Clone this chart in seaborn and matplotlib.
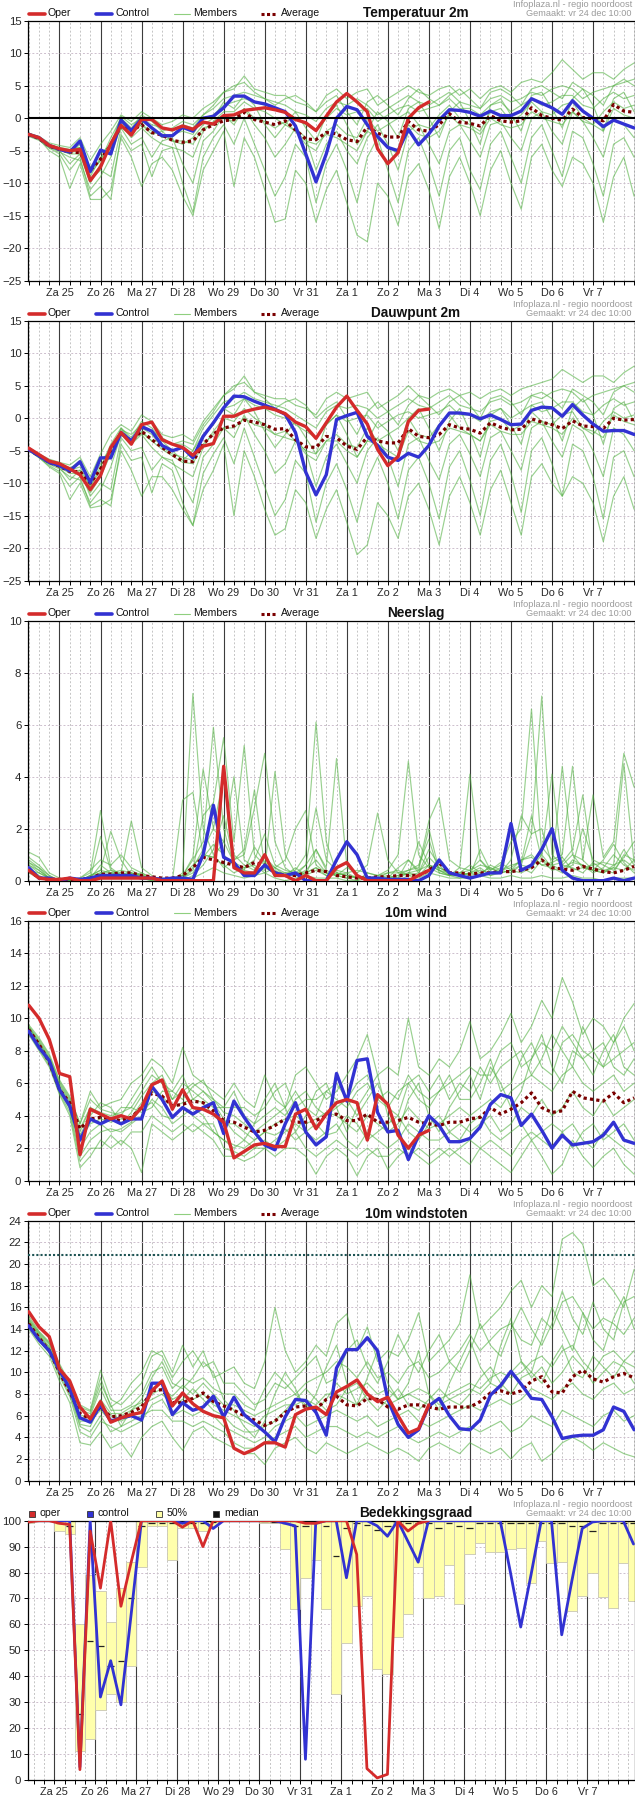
import matplotlib
matplotlib.use('Agg')
import matplotlib.pyplot as plt
import numpy as np
import pandas as pd
import seaborn as sns
from matplotlib.lines import Line2D
from matplotlib.ticker import MultipleLocator

# ============================================== Data ==============================================
day_labels = ['Za 25', 'Zo 26', 'Ma 27', 'Di 28', 'Wo 29', 'Do 30', 'Vr 31',
              'Za 1', 'Zo 2', 'Ma 3', 'Di 4', 'Wo 5', 'Do 6', 'Vr 7']
n_steps = 60
t_runs = [-0.75 + 0.25 * i for i in range(n_steps)]     # days since Za 25 00h, 6-hourly
t_cloud = [-0.625 + 0.25 * j for j in range(n_steps)]   # cloud periods (centred)

# ---- Temperatuur 2m
temp_oper = [-2.5, -3.0, -4.2, -4.7, -5.0, -4.8, -9.6, -7.5, -3.9, -1.1,
             -2.6, -0.2, -0.2, -1.5, -1.8, -1.2, -1.7, -0.6, -0.9, 0.4,
             0.5, 1.2, 1.4, 1.6, 1.3, 0.9, -0.2, -0.7, -1.9, 0.3,
             2.5, 3.8, 2.5, 1.0, -4.7, -7.0, -5.3, 0.0, 1.6, 2.5]
temp_control = [-2.5, -3.0, -4.2, -4.8, -5.2, -3.5, -8.2, -4.9, -5.5, -0.3,
                -1.9, -0.1, -1.5, -2.7, -2.7, -1.4, -2.0, 0.0, 0.3, 1.6,
                3.4, 3.4, 2.5, 2.2, 1.6, 1.0, -1.2, -5.5, -9.8, -5.5,
                0.0, 1.8, 1.3, -1.0, -2.8, -4.5, -5.0, -1.7, -4.1, -2.4,
                -0.3, 1.3, 1.2, 0.9, 0.3, 1.1, 0.4, 0.4, 1.1, 3.0,
                2.3, 1.6, 0.6, 2.7, 1.1, 0.0, -1.3, -0.3, -0.9, -1.5]
temp_avg = [-2.5, -3.1, -4.3, -4.8, -5.2, -5.3, -8.0, -6.3, -4.2, -1.2,
            -2.0, -1.0, -2.2, -2.6, -3.4, -3.7, -3.5, -1.8, -1.0, -0.4,
            -0.2, 0.9, -0.2, -0.6, -1.0, -0.4, -1.8, -3.2, -3.3, -2.2,
            -2.4, -3.3, -3.6, -1.3, -2.3, -2.9, -2.9, -0.5, -1.8, -2.0,
            -1.0, 0.7, -0.6, -0.8, -1.2, 0.4, -0.4, -0.6, -0.4, 1.6,
            0.4, 0.0, -0.3, 1.4, 0.1, -0.1, -0.4, 2.1, 1.1, 0.9]
temp_members = [
    [-2.3, -2.8, -3.8, -4.2, -4.5, -3.0, -6.5, -4.0, -2.0, 0.5,
     -0.5, 1.0, 0.0, -1.0, -0.5, 0.5, 0.0, 1.5, 2.5, 4.0,
     4.5, 6.5, 4.5, 4.0, 3.5, 3.5, 2.5, 2.0, 1.0, 3.5,
     4.5, 3.0, 4.0, 4.5, 2.0, 3.0, 4.0, 5.0, 4.0, 3.5,
     4.5, 5.0, 3.5, 4.5, 3.0, 4.5, 5.0, 4.0, 5.5, 6.0,
     5.5, 7.0, 9.0, 7.5, 6.0, 7.0, 7.0, 6.0, 7.5, 8.5],
    [-2.5, -3.0, -4.0, -4.6, -5.0, -4.5, -8.5, -6.5, -3.0, 0.0,
     -1.5, 0.5, -0.5, -2.0, -1.5, -0.5, -1.0, 0.5, 1.5, 3.0,
     3.5, 4.0, 3.5, 3.0, 2.5, 2.0, 1.0, 0.5, -0.5, 1.5,
     2.5, 2.0, 3.0, 2.0, 0.5, 1.5, 2.5, 3.5, 2.5, 2.0,
     3.0, 4.0, 2.5, 2.0, 1.5, 3.0, 3.5, 2.5, 3.0, 4.0,
     3.5, 4.5, 5.0, 4.5, 3.0, 4.0, 4.5, 5.0, 5.5, 6.0],
    [-2.6, -3.1, -4.3, -4.9, -5.5, -5.5, -10.0, -7.0, -4.5, -0.5,
     -2.5, -0.5, -1.5, -3.0, -2.5, -2.0, -2.5, 0.0, 0.5, 2.0,
     2.5, 3.0, 2.5, 2.0, 1.5, 1.0, 0.0, -1.0, -2.0, 0.0,
     1.5, 0.5, 1.0, 1.5, -0.5, 0.5, 1.5, 2.0, 1.0, 1.5,
     2.0, 3.0, 1.5, 1.5, 0.5, 2.0, 2.5, 1.0, 2.0, 3.0,
     2.0, 2.5, 3.5, 3.5, 2.0, 1.5, 3.0, 4.0, 3.0, 3.5],
    [-2.7, -3.3, -4.5, -5.2, -6.0, -6.5, -11.0, -9.0, -6.0, -1.0,
     -3.0, -1.5, -3.0, -4.0, -4.5, -5.0, -6.0, -2.0, -0.5, 1.0,
     1.0, 2.5, 1.5, 1.0, 0.0, -1.0, -2.0, -4.0, -5.0, -2.0,
     -1.0, -2.5, -3.0, 0.0, -2.0, -1.0, 0.0, 1.0, -1.0, -1.5,
     0.5, 2.0, 0.0, -1.0, -2.0, 1.0, 1.5, -0.5, 0.5, 2.5,
     1.0, 0.5, 2.0, 2.5, 0.0, -1.0, 1.0, 2.5, 1.5, 2.0],
    [-2.5, -3.0, -4.4, -5.0, -7.0, -5.5, -9.5, -8.0, -9.0, -1.5,
     -4.0, -3.0, -6.0, -3.5, -3.0, -7.0, -10.0, -3.5, -2.0, 0.5,
     -1.0, 1.5, -1.0, -3.0, -6.0, -4.0, -1.5, -3.0, -8.0, -4.0,
     -2.0, -5.0, -7.0, -3.0, -1.0, -4.0, -8.0, -2.0, -1.0, -4.0,
     -7.0, -2.0, -1.0, -3.5, -6.0, -1.0, -0.5, -3.0, -5.0, 0.0,
     1.0, -2.0, -4.0, 1.0, -0.5, -3.0, -6.0, 0.0, -1.0, -3.0],
    [-2.8, -3.4, -4.6, -5.5, -8.0, -6.0, -12.0, -10.5, -12.5, -2.5,
     -5.0, -4.0, -9.0, -5.0, -4.5, -10.0, -14.5, -6.0, -3.0, -1.0,
     -4.0, 0.0, -4.0, -8.0, -12.0, -9.0, -4.0, -6.0, -13.0, -7.0,
     -4.0, -8.0, -13.0, -6.0, -3.0, -8.0, -13.0, -5.0, -3.0, -7.0,
     -12.0, -5.0, -3.0, -8.0, -11.0, -4.0, -2.0, -6.0, -10.0, -3.0,
     -1.0, -5.0, -9.0, -2.0, -3.0, -7.0, -12.0, -4.0, -3.0, -6.0],
    [-2.6, -3.2, -5.0, -6.0, -10.8, -7.0, -12.5, -12.5, -11.0, -3.0,
     -6.0, -10.5, -7.0, -6.0, -8.0, -12.0, -15.0, -8.0, -5.0, -2.0,
     -10.5, -3.0, -6.0, -11.0, -16.0, -15.5, -8.0, -10.0, -16.0, -11.0,
     -8.0, -13.0, -18.0, -19.0, -10.0, -12.0, -16.5, -9.0, -7.0, -11.0,
     -17.0, -9.0, -6.0, -10.0, -15.0, -8.0, -5.0, -10.0, -14.0, -6.0,
     -4.0, -8.0, -10.5, -6.0, -7.0, -10.0, -16.0, -9.0, -6.0, -12.0],
    [-2.4, -2.9, -4.2, -4.8, -5.5, -4.0, -9.0, -6.0, -5.0, 0.0,
     -2.0, -1.0, -2.5, -2.0, -3.5, -4.0, -3.0, -1.0, 0.0, 2.5,
     1.5, 3.5, 2.0, -1.0, -3.0, -1.0, 1.0, -1.5, -3.5, 0.5,
     2.0, -1.0, -4.0, -2.0, 1.0, -0.5, -3.0, 1.5, 2.5, 0.0,
     -3.0, 1.0, 2.5, -0.5, -4.0, 2.0, 3.0, 0.5, -2.0, 3.5,
     4.0, 1.5, -1.5, 3.0, 4.5, 2.0, -2.0, 3.0, 4.0, 1.0],
    [-2.5, -3.0, -4.1, -4.5, -4.8, -4.5, -7.5, -5.5, -4.0, 0.3,
     -1.0, 0.0, -1.0, -1.5, -2.0, -1.0, -1.5, 0.5, 2.0, 4.0,
     5.0, 5.5, 4.0, 3.0, 2.0, 3.0, 3.5, 2.5, 1.0, 2.5,
     3.5, 1.0, -1.0, 2.5, 3.5, 2.0, 0.5, 3.0, 4.5, 3.0,
     2.0, 3.5, 4.5, 3.0, 1.5, 4.0, 4.5, 3.5, 2.0, 4.5,
     5.0, 4.0, 3.0, 5.5, 4.5, 3.5, 2.0, 5.0, 6.0, 5.0],
    [-2.5, -3.1, -4.3, -4.8, -5.3, -5.0, -8.0, -6.5, -4.5, -1.0,
     -2.0, -1.0, -2.0, -2.5, -3.5, -3.5, -4.0, -1.5, -1.0, 0.0,
     -0.5, 1.5, 0.0, -0.5, -1.5, -0.5, -2.0, -3.5, -4.0, -2.5,
     -3.0, -4.0, -5.0, -2.0, -3.0, -4.5, -5.5, -1.0, -2.5, -3.0,
     -2.0, 0.5, -1.0, -1.5, -2.5, 0.0, -1.0, -1.5, -1.0, 1.0,
     0.0, -0.5, -1.0, 1.0, -0.5, -1.0, -2.0, 1.5, 0.5, 0.0],
]

# ---- Dauwpunt 2m
dew_oper = [-4.6, -5.6, -6.6, -7.0, -7.8, -8.7, -11.0, -8.8, -4.5, -2.2,
            -4.0, -1.0, -0.6, -3.3, -4.0, -4.5, -5.7, -4.3, -3.9, 0.3,
            0.3, 1.0, 1.4, 1.7, 1.3, 0.7, -0.6, -1.3, -3.1, -0.7,
            1.7, 3.4, 1.2, -0.9, -4.8, -7.3, -5.9, -0.5, 1.2, 1.4]
dew_control = [-4.8, -5.8, -6.8, -7.3, -8.1, -6.7, -9.9, -6.1, -6.1, -2.2,
               -3.5, -1.3, -2.0, -4.2, -5.0, -4.5, -6.1, -2.8, -0.7, 1.6,
               3.4, 3.3, 2.6, 2.0, 1.4, 0.6, -2.2, -8.3, -11.8, -8.7,
               -0.2, 0.4, 0.9, -2.8, -4.2, -6.0, -6.5, -5.4, -6.0, -4.2,
               -1.2, 0.8, 0.8, 0.6, -0.1, 0.5, -0.2, -1.0, -0.9, 1.2,
               1.7, 1.6, 0.3, 2.1, 0.5, -0.9, -2.0, -1.9, -1.9, -2.5]
dew_avg = [-4.8, -5.8, -6.8, -7.4, -8.2, -8.2, -10.0, -7.8, -5.0, -2.3,
           -3.5, -2.0, -3.3, -4.5, -5.6, -6.6, -6.7, -4.0, -2.4, -1.5,
           -1.2, -0.3, -0.6, -1.0, -1.7, -1.6, -3.3, -4.4, -4.5, -2.8,
           -3.0, -4.3, -4.8, -2.9, -3.5, -3.8, -3.8, -1.6, -2.8, -3.0,
           -2.5, -1.0, -1.5, -1.7, -2.3, -0.7, -1.4, -1.8, -1.7, -0.1,
           -0.6, -1.0, -1.6, -0.4, -1.2, -1.3, -1.6, 0.0, -0.3, -0.2]
dew_members = [
    [-4.5, -5.5, -6.3, -6.8, -7.2, -6.0, -9.0, -5.5, -2.5, -1.0,
     -2.0, 0.5, -0.5, -2.5, -3.0, -2.5, -3.5, -0.5, 1.5, 3.5,
     4.5, 6.5, 4.0, 3.5, 3.0, 3.0, 2.0, 1.5, 0.5, 3.0,
     4.0, 3.0, 3.5, 4.0, 1.5, 2.5, 3.5, 5.0, 3.5, 3.0,
     4.0, 4.5, 3.5, 4.0, 3.0, 4.0, 4.5, 3.5, 4.5, 5.0,
     5.5, 6.0, 7.5, 6.5, 5.5, 6.5, 6.5, 5.5, 7.0, 8.0],
    [-4.7, -5.7, -6.6, -7.2, -8.0, -7.5, -10.5, -7.5, -4.0, -1.5,
     -3.0, -0.5, -1.5, -3.5, -4.0, -4.0, -5.0, -1.5, 0.5, 2.5,
     3.0, 4.0, 3.0, 2.5, 2.0, 1.5, 0.5, -0.5, -1.5, 1.0,
     2.0, 1.5, 2.0, 1.5, 0.0, 1.0, 2.0, 3.0, 2.0, 1.5,
     2.5, 3.5, 2.0, 1.5, 1.0, 2.5, 3.0, 2.0, 2.5, 3.5,
     3.0, 4.0, 4.5, 4.0, 2.5, 3.5, 4.0, 4.5, 5.0, 5.5],
    [-4.8, -5.9, -6.9, -7.5, -8.5, -8.5, -11.5, -9.0, -5.5, -2.0,
     -3.5, -1.5, -2.5, -4.5, -5.5, -6.0, -6.5, -3.0, -0.5, 1.5,
     2.0, 3.0, 2.0, 1.5, 0.5, 0.0, -1.0, -2.0, -3.0, -1.0,
     0.5, -0.5, 0.0, 0.5, -1.5, -0.5, 0.5, 1.0, 0.0, 0.5,
     1.0, 2.0, 0.5, 0.5, -0.5, 1.0, 1.5, 0.0, 1.0, 2.0,
     1.0, 1.5, 2.5, 2.5, 1.0, 0.5, 2.0, 3.0, 2.0, 2.5],
    [-4.9, -6.0, -7.1, -7.8, -9.0, -9.5, -13.0, -11.0, -7.5, -2.5,
     -4.0, -2.5, -4.5, -6.0, -7.0, -8.0, -9.0, -4.5, -2.0, 0.0,
     -0.5, 1.5, 0.0, -1.0, -2.5, -3.0, -3.5, -5.5, -6.5, -3.5,
     -2.5, -4.0, -4.5, -1.5, -3.5, -2.5, -1.5, 0.0, -2.5, -3.0,
     -1.0, 0.5, -1.5, -2.5, -3.5, -0.5, 0.0, -2.0, -1.0, 1.0,
     -0.5, -1.0, 0.5, 1.0, -1.5, -2.5, -0.5, 1.0, 0.0, 0.5],
    [-4.8, -5.8, -6.9, -7.6, -9.5, -8.0, -12.0, -10.0, -11.0, -3.0,
     -5.0, -4.5, -8.0, -6.0, -6.5, -10.0, -13.0, -6.0, -4.0, -1.5,
     -3.0, 0.5, -2.5, -5.0, -8.5, -7.0, -3.5, -5.0, -10.5, -6.0,
     -4.0, -7.0, -10.0, -5.0, -3.0, -6.0, -10.5, -4.0, -3.0, -6.5,
     -9.5, -4.0, -2.5, -5.5, -9.0, -3.0, -2.0, -5.0, -8.0, -1.5,
     -0.5, -3.5, -6.0, -1.0, -2.0, -5.0, -9.0, -1.5, -2.5, -5.0],
    [-5.0, -6.1, -7.3, -8.2, -10.5, -9.0, -13.5, -12.5, -13.5, -4.0,
     -6.5, -6.0, -11.5, -7.0, -8.0, -13.0, -16.5, -8.5, -5.5, -3.0,
     -7.0, -1.5, -6.0, -10.5, -15.0, -12.5, -6.5, -8.5, -16.0, -10.0,
     -7.0, -11.0, -16.0, -9.5, -6.0, -10.0, -15.5, -8.0, -6.0, -10.0,
     -15.5, -7.5, -5.0, -9.5, -15.0, -6.5, -4.0, -8.5, -14.5, -5.0,
     -3.0, -7.0, -12.0, -4.0, -5.0, -9.0, -15.5, -6.0, -5.0, -9.0],
    [-4.9, -6.0, -7.5, -8.5, -12.5, -10.0, -13.8, -13.5, -12.5, -5.0,
     -8.0, -12.0, -9.0, -9.0, -11.0, -14.0, -16.5, -11.0, -8.0, -4.0,
     -15.0, -5.0, -9.0, -14.0, -18.0, -17.0, -11.0, -13.0, -18.5, -14.0,
     -11.0, -16.0, -21.0, -19.5, -13.0, -15.0, -18.5, -12.0, -10.0, -14.0,
     -19.5, -12.0, -9.0, -13.0, -18.0, -11.0, -8.0, -13.0, -18.0, -9.0,
     -7.0, -10.0, -12.0, -9.0, -10.0, -13.0, -19.0, -12.0, -9.0, -14.0],
    [-4.6, -5.6, -6.5, -7.0, -7.8, -6.5, -10.0, -7.0, -6.0, -1.5,
     -3.5, -2.0, -3.5, -3.5, -5.0, -6.5, -5.0, -2.5, -1.0, 1.5,
     0.5, 3.0, 1.0, -2.0, -4.5, -2.5, -0.5, -3.0, -5.5, -1.0,
     0.5, -2.5, -6.0, -3.5, -0.5, -2.0, -5.0, 0.0, 1.5, -1.5,
     -5.0, -0.5, 1.5, -2.0, -6.0, 0.5, 1.5, -1.0, -4.0, 2.0,
     2.5, 0.0, -3.5, 1.5, 3.0, 0.5, -4.0, 1.5, 2.5, -0.5],
    [-4.7, -5.7, -6.6, -7.1, -7.6, -7.0, -9.5, -6.5, -5.0, -1.8,
     -2.5, -1.0, -2.0, -3.0, -4.0, -3.5, -4.0, -1.0, 1.0, 3.5,
     5.0, 5.5, 4.0, 3.0, 1.5, 2.5, 3.0, 2.0, 0.0, 1.5,
     2.5, 0.0, -2.5, 1.0, 2.5, 1.0, -1.0, 2.0, 3.5, 2.0,
     0.5, 2.5, 3.5, 2.0, 0.0, 3.0, 3.5, 2.5, 0.5, 3.5,
     4.0, 3.0, 1.5, 4.5, 3.5, 2.5, 0.5, 4.0, 5.0, 4.0],
    [-4.8, -5.8, -6.8, -7.4, -8.2, -8.0, -10.5, -8.0, -5.5, -2.5,
     -3.8, -2.2, -3.5, -4.8, -5.8, -6.8, -7.0, -4.0, -2.5, -1.5,
     -1.5, 0.0, -1.0, -1.5, -2.5, -2.0, -3.5, -5.0, -5.5, -3.5,
     -3.5, -5.0, -6.0, -3.5, -4.0, -5.0, -6.0, -2.0, -3.5, -4.0,
     -3.5, -1.5, -2.0, -2.5, -3.5, -1.0, -2.0, -2.5, -2.5, -0.5,
     -1.0, -1.5, -2.5, 0.0, -1.5, -2.0, -3.0, 0.5, -0.5, -1.0],
]

# ---- Neerslag
rain_oper = [0.4, 0.1, 0.05, 0.05, 0.1, 0.0, 0.0, 0.1, 0.1, 0.1,
             0.1, 0.1, 0.1, 0.0, 0.0, 0.0, 0.0, 0.0, 0.0, 4.4,
             0.5, 0.3, 0.3, 1.0, 0.2, 0.2, 0.0, 0.2, 0.0, 0.0,
             0.5, 0.7, 0.2, 0.0, 0.0, 0.0, 0.0, 0.0, 0.2, 0.4]
rain_control = [0.5, 0.1, 0.1, 0.0, 0.1, 0.05, 0.1, 0.2, 0.2, 0.2,
                0.2, 0.1, 0.1, 0.05, 0.1, 0.1, 0.05, 1.0, 2.9, 0.9,
                0.7, 0.2, 0.2, 0.6, 0.3, 0.2, 0.3, 0.0, 0.0, 0.0,
                0.8, 1.5, 1.0, 0.1, 0.1, 0.05, 0.05, 0.05, 0.0, 0.2,
                0.8, 0.3, 0.2, 0.1, 0.2, 0.3, 0.3, 2.2, 0.4, 0.6,
                1.2, 2.0, 0.4, 0.1, 0.0, 0.0, 0.0, 0.1, 0.0, 0.1]
rain_avg = [0.4, 0.1, 0.05, 0.05, 0.05, 0.05, 0.1, 0.25, 0.25, 0.3,
            0.3, 0.2, 0.15, 0.1, 0.1, 0.2, 0.5, 0.9, 0.8, 0.7,
            0.6, 0.5, 0.7, 0.6, 0.3, 0.2, 0.2, 0.3, 0.4, 0.35,
            0.2, 0.15, 0.1, 0.1, 0.15, 0.15, 0.2, 0.2, 0.2, 0.4,
            0.7, 0.3, 0.3, 0.25, 0.3, 0.3, 0.35, 0.35, 0.4, 0.5,
            0.8, 0.5, 0.45, 0.4, 0.55, 0.45, 0.35, 0.3, 0.4, 0.55]
rain_members = [
    [1.1, 0.9, 0.3, 0.1, 0.0, 0.0, 0.1, 0.6, 0.3, 0.2,
     0.4, 0.2, 0.1, 0.0, 0.0, 0.3, 7.2, 2.0, 1.0, 0.5,
     0.8, 1.2, 3.5, 0.5, 0.3, 0.2, 0.5, 0.2, 1.2, 0.4,
     0.2, 0.1, 0.0, 0.3, 0.2, 0.1, 0.5, 0.8, 0.3, 1.2,
     0.6, 0.2, 0.5, 0.4, 0.8, 0.3, 0.5, 1.5, 2.0, 6.6,
     1.0, 0.5, 0.3, 0.8, 0.6, 0.3, 0.5, 1.0, 0.6, 0.4],
    [0.8, 0.5, 0.2, 0.0, 0.0, 0.1, 0.3, 2.7, 0.5, 0.2,
     0.3, 0.1, 0.0, 0.0, 0.1, 0.2, 0.8, 1.5, 5.9, 2.0,
     0.6, 0.4, 0.3, 0.9, 0.5, 0.3, 0.4, 1.0, 6.1, 1.5,
     0.3, 0.2, 0.1, 0.1, 0.2, 0.3, 0.4, 0.2, 0.3, 0.9,
     0.5, 0.3, 0.2, 0.3, 0.5, 0.2, 0.4, 0.3, 0.6, 0.5,
     1.3, 0.8, 1.0, 4.4, 0.8, 0.4, 0.3, 0.6, 0.8, 0.5],
    [0.6, 0.3, 0.1, 0.0, 0.0, 0.0, 0.2, 0.4, 1.9, 0.8,
     0.2, 0.3, 0.1, 0.0, 0.0, 0.1, 0.4, 2.5, 3.0, 5.5,
     1.5, 5.2, 1.0, 0.6, 0.4, 0.2, 0.3, 0.6, 1.2, 0.5,
     4.7, 0.6, 0.2, 0.1, 0.0, 0.1, 0.2, 0.3, 0.2, 0.6,
     0.4, 0.2, 0.3, 0.6, 0.3, 0.5, 0.3, 0.8, 2.5, 1.8,
     7.1, 1.0, 0.6, 0.5, 0.3, 0.7, 0.4, 0.5, 1.2, 0.6],
    [0.5, 0.2, 0.0, 0.0, 0.1, 0.0, 0.1, 1.7, 0.4, 0.3,
     2.3, 0.5, 0.2, 0.0, 0.1, 0.0, 0.2, 0.6, 1.2, 2.5,
     0.8, 1.0, 2.8, 4.9, 1.5, 0.5, 0.2, 0.3, 0.5, 0.3,
     0.2, 0.3, 0.4, 0.3, 0.2, 0.4, 1.0, 4.6, 1.0, 0.5,
     0.3, 0.2, 0.3, 0.4, 0.6, 0.5, 0.3, 0.4, 0.8, 1.0,
     0.6, 0.5, 4.4, 1.0, 0.8, 3.3, 0.9, 1.5, 4.9, 3.6],
    [0.7, 0.4, 0.1, 0.0, 0.0, 0.1, 0.4, 0.8, 0.6, 1.0,
     0.5, 0.3, 0.1, 0.1, 0.0, 3.1, 3.4, 1.0, 0.9, 0.6,
     0.3, 0.5, 0.6, 0.3, 0.5, 0.8, 2.0, 2.7, 0.6, 0.3,
     0.2, 0.5, 0.3, 0.6, 2.6, 0.8, 0.3, 0.4, 0.5, 2.3,
     3.2, 0.8, 0.5, 4.1, 0.8, 0.4, 0.6, 2.0, 0.5, 0.3,
     0.8, 0.6, 0.7, 1.2, 3.3, 0.5, 0.4, 0.3, 1.0, 0.8],
    [0.3, 0.1, 0.0, 0.0, 0.0, 0.0, 0.1, 0.2, 0.2, 0.1,
     0.1, 0.1, 0.0, 0.0, 0.0, 0.0, 0.1, 0.3, 0.5, 0.3,
     0.2, 0.1, 0.2, 0.3, 0.1, 0.0, 0.1, 0.2, 0.1, 0.1,
     0.1, 0.0, 0.0, 0.1, 0.1, 0.0, 0.0, 0.2, 0.1, 0.3,
     0.2, 0.1, 0.1, 0.1, 0.2, 0.1, 0.1, 0.2, 0.1, 0.1,
     0.2, 0.1, 0.1, 0.2, 0.1, 0.1, 0.0, 0.1, 0.1, 0.1],
    [0.9, 0.6, 0.2, 0.0, 0.0, 0.0, 0.2, 0.3, 0.3, 0.4,
     0.3, 0.2, 0.1, 0.0, 0.1, 0.2, 0.9, 4.3, 2.0, 1.5,
     4.0, 0.8, 0.5, 0.4, 4.2, 1.0, 0.3, 0.2, 0.4, 0.2,
     0.3, 0.2, 0.1, 0.1, 0.0, 0.1, 0.2, 0.4, 0.6, 1.6,
     0.3, 0.2, 0.1, 0.2, 0.3, 0.2, 0.3, 0.4, 0.3, 0.5,
     1.0, 4.1, 0.6, 1.0, 0.5, 0.4, 0.3, 0.5, 0.4, 0.8],
    [0.4, 0.3, 0.1, 0.0, 0.0, 0.0, 0.1, 0.2, 0.2, 0.3,
     0.2, 0.2, 0.1, 0.0, 0.0, 0.1, 0.3, 0.9, 1.4, 1.0,
     0.6, 0.4, 1.3, 0.7, 0.5, 0.2, 0.2, 0.6, 2.8, 0.8,
     0.4, 0.3, 0.1, 0.1, 0.0, 0.1, 0.1, 0.3, 0.4, 0.6,
     0.4, 0.3, 0.2, 0.3, 0.4, 0.3, 0.4, 0.6, 0.7, 2.5,
     0.8, 0.4, 0.5, 0.7, 0.6, 0.4, 0.8, 1.4, 0.7, 0.3],
    [0.6, 0.4, 0.1, 0.0, 0.0, 0.0, 0.1, 0.3, 0.4, 0.2,
     0.2, 0.1, 0.1, 0.0, 0.0, 0.1, 0.5, 1.2, 2.0, 4.0,
     1.0, 0.6, 0.4, 1.0, 0.3, 0.3, 0.2, 0.4, 0.8, 0.3,
     0.2, 0.1, 0.2, 0.1, 0.1, 0.3, 0.3, 0.2, 1.5, 0.6,
     0.5, 0.3, 0.3, 0.2, 1.2, 0.4, 0.7, 0.4, 0.6, 1.8,
     2.0, 0.6, 0.4, 0.6, 2.0, 0.8, 0.6, 0.4, 0.9, 1.5],
    [0.7, 0.5, 0.1, 0.0, 0.0, 0.0, 0.2, 0.4, 0.3, 0.2,
     0.3, 0.2, 0.1, 0.1, 0.0, 0.2, 0.6, 1.0, 0.9, 1.5,
     0.7, 0.5, 0.8, 1.8, 0.6, 0.4, 0.3, 0.3, 0.5, 0.2,
     0.3, 0.2, 0.1, 0.1, 0.1, 0.2, 0.1, 0.8, 0.4, 2.0,
     0.4, 0.2, 0.2, 0.3, 0.2, 0.6, 0.4, 0.5, 0.8, 0.9,
     0.6, 0.7, 0.9, 0.4, 0.5, 0.6, 0.7, 0.6, 4.5, 0.7],
]

# ---- 10m wind
wind_oper = [10.8, 10.0, 8.7, 6.6, 6.4, 1.6, 4.4, 4.1, 3.8, 4.0,
             3.8, 4.5, 5.9, 6.2, 4.4, 5.6, 4.5, 4.4, 4.1, 3.6,
             1.4, 1.8, 2.2, 2.3, 2.1, 2.1, 4.1, 4.4, 3.2, 4.1,
             4.8, 5.0, 4.8, 2.5, 5.3, 4.7, 2.8, 2.0, 2.8, 3.1]
wind_control = [9.2, 8.2, 7.4, 5.6, 4.6, 2.5, 3.8, 3.5, 3.8, 3.5,
                3.8, 3.8, 5.8, 5.0, 3.9, 4.5, 4.1, 4.5, 4.8, 2.9,
                4.9, 3.9, 3.0, 2.2, 1.9, 3.5, 4.8, 3.0, 2.2, 2.7,
                6.6, 4.9, 7.4, 7.5, 4.2, 3.0, 3.1, 1.3, 2.8, 4.0,
                3.4, 2.4, 2.4, 2.6, 3.3, 4.7, 5.3, 5.1, 3.4, 4.1,
                3.1, 2.0, 2.8, 2.2, 2.3, 2.4, 2.8, 3.6, 2.5, 2.3]
wind_avg = [9.3, 8.4, 7.3, 5.6, 4.8, 3.2, 3.8, 3.9, 3.8, 3.7,
            3.9, 4.5, 5.4, 5.2, 4.6, 4.7, 4.9, 4.8, 4.3, 3.7,
            3.6, 3.3, 3.0, 3.1, 3.4, 3.8, 3.6, 3.6, 3.7, 4.0,
            4.1, 3.7, 3.7, 4.1, 3.6, 3.6, 3.7, 3.9, 3.6, 3.5,
            3.4, 3.6, 3.6, 3.8, 3.9, 4.5, 4.1, 4.4, 4.8, 5.4,
            4.5, 4.2, 4.3, 5.5, 5.1, 5.0, 4.9, 5.4, 4.8, 5.1]
wind_members = [
    [9.6, 8.8, 7.8, 6.2, 5.2, 3.5, 5.5, 4.5, 4.8, 5.0,
     6.0, 6.5, 7.5, 7.0, 6.0, 8.2, 6.5, 6.0, 5.5, 5.0,
     6.0, 5.0, 4.5, 6.5, 5.0, 4.5, 6.5, 7.0, 6.0, 5.0,
     5.5, 6.5, 7.5, 9.0, 6.5, 7.0, 6.5, 10.0, 7.0, 6.5,
     7.5, 7.0, 8.0, 9.8, 7.5, 8.0, 9.0, 10.3, 8.5, 9.5,
     11.1, 10.0, 12.5, 11.0, 9.0, 10.0, 9.5, 8.5, 10.0, 10.9],
    [9.4, 8.6, 7.6, 6.0, 5.0, 3.0, 4.5, 4.2, 4.0, 4.2,
     4.5, 5.5, 6.5, 6.0, 5.0, 6.0, 5.5, 5.0, 4.5, 4.5,
     5.5, 4.0, 3.5, 4.0, 4.5, 4.0, 5.0, 5.5, 4.5, 4.0,
     4.5, 5.0, 6.0, 6.5, 5.0, 5.5, 5.0, 6.5, 5.5, 5.0,
     5.5, 6.0, 6.5, 7.0, 6.5, 6.5, 8.0, 8.5, 7.0, 7.5,
     8.5, 8.0, 9.5, 8.5, 7.5, 8.0, 7.0, 7.5, 8.0, 8.5],
    [9.3, 8.4, 7.4, 5.7, 4.7, 2.5, 3.5, 3.8, 3.6, 3.8,
     3.9, 4.8, 5.5, 5.2, 4.5, 4.8, 5.0, 4.8, 4.0, 3.5,
     3.5, 3.0, 2.5, 3.0, 3.5, 3.8, 4.0, 3.5, 3.8, 4.2,
     4.0, 3.5, 3.0, 4.0, 3.5, 3.0, 3.5, 4.5, 3.8, 3.2,
     3.5, 4.0, 4.5, 4.0, 4.5, 5.0, 4.5, 5.5, 6.0, 6.5,
     6.0, 5.5, 6.5, 7.0, 6.0, 5.5, 6.0, 6.5, 5.5, 6.0],
    [9.2, 8.2, 7.2, 5.5, 4.4, 1.5, 2.5, 3.0, 3.2, 3.0,
     3.5, 4.0, 5.0, 4.5, 3.5, 4.0, 4.5, 4.0, 3.0, 2.5,
     2.0, 2.5, 2.0, 2.0, 2.5, 3.0, 3.5, 3.0, 2.5, 3.0,
     3.5, 2.5, 2.0, 3.0, 2.5, 2.0, 2.5, 3.5, 3.0, 2.5,
     2.5, 3.0, 3.5, 3.0, 3.5, 4.0, 3.0, 3.5, 4.5, 4.0,
     5.0, 4.0, 4.5, 5.5, 4.5, 4.0, 5.0, 4.0, 4.5, 5.0],
    [9.0, 8.0, 7.0, 5.3, 4.0, 0.8, 1.5, 2.5, 2.0, 2.5,
     2.0, 0.5, 3.5, 3.0, 2.5, 3.0, 3.5, 3.0, 2.5, 1.5,
     1.5, 1.2, 1.5, 2.0, 1.5, 2.0, 2.0, 1.5, 0.4, 1.5,
     2.0, 1.5, 0.3, 1.5, 2.0, 0.7, 1.5, 2.0, 1.5, 1.0,
     1.5, 2.0, 1.5, 1.0, 2.0, 1.5, 1.0, 0.5, 1.5, 2.5,
     1.5, 0.4, 1.0, 2.5, 1.5, 0.8, 1.5, 2.0, 1.0, 0.4],
    [9.5, 8.5, 7.5, 5.9, 4.9, 2.8, 4.0, 4.8, 4.5, 3.5,
     4.2, 5.2, 6.0, 6.5, 5.0, 5.5, 6.0, 5.5, 4.8, 3.8,
     3.0, 2.5, 3.5, 5.0, 6.0, 4.5, 3.0, 4.0, 5.5, 6.0,
     4.5, 3.0, 4.5, 5.5, 6.5, 4.0, 3.0, 5.0, 6.0, 4.0,
     3.0, 4.5, 5.5, 6.5, 5.0, 7.0, 6.0, 4.5, 5.5, 7.5,
     9.0, 7.0, 6.0, 8.0, 7.5, 6.5, 8.0, 9.0, 7.0, 6.5],
    [9.3, 8.3, 7.3, 5.6, 4.5, 2.0, 3.0, 3.5, 3.0, 3.2,
     3.6, 4.5, 4.8, 4.0, 3.8, 4.5, 4.0, 3.5, 3.0, 2.5,
     2.2, 2.0, 2.5, 3.0, 2.8, 3.2, 2.5, 3.0, 3.5, 2.8,
     3.0, 4.0, 3.5, 2.5, 3.0, 3.5, 4.0, 3.0, 2.5, 3.5,
     4.0, 3.0, 2.5, 3.5, 4.0, 3.0, 2.5, 3.0, 3.5, 2.5,
     3.0, 3.5, 3.0, 2.0, 3.0, 3.5, 2.5, 3.0, 3.5, 2.5],
    [9.4, 8.5, 7.5, 5.8, 4.8, 3.2, 4.5, 4.0, 3.8, 4.5,
     4.5, 4.2, 4.5, 5.5, 5.5, 5.0, 5.8, 6.2, 5.0, 4.2,
     4.0, 3.5, 3.0, 3.5, 4.0, 4.5, 5.5, 4.5, 4.0, 5.5,
     6.0, 5.0, 4.0, 5.0, 6.0, 4.5, 4.0, 6.0, 5.0, 4.5,
     5.5, 6.5, 5.0, 5.0, 6.0, 7.5, 5.5, 6.0, 7.5, 8.5,
     7.0, 6.5, 8.5, 9.0, 8.0, 7.5, 7.0, 8.5, 9.5, 8.0],
    [9.1, 8.1, 7.1, 5.4, 4.2, 1.2, 2.0, 2.0, 2.8, 2.2,
     3.0, 3.0, 4.0, 3.5, 3.0, 3.5, 3.0, 3.5, 3.5, 2.0,
     1.8, 1.5, 2.0, 2.5, 2.0, 2.5, 3.0, 2.0, 1.5, 2.0,
     2.5, 2.0, 1.5, 2.0, 1.5, 1.5, 2.0, 1.5, 2.0, 1.5,
     2.0, 1.5, 2.0, 2.5, 2.0, 2.5, 2.0, 1.5, 2.5, 3.0,
     2.5, 2.0, 3.0, 3.5, 2.5, 2.0, 3.0, 2.5, 2.0, 1.5],
    [9.5, 8.7, 7.7, 6.1, 5.1, 3.5, 5.0, 4.4, 4.2, 4.0,
     5.0, 6.0, 7.0, 6.0, 5.5, 6.5, 5.0, 5.5, 5.0, 4.5,
     4.5, 4.5, 4.0, 4.5, 5.5, 6.0, 4.5, 5.0, 5.0, 5.5,
     5.0, 4.5, 5.5, 6.0, 5.0, 4.5, 5.5, 6.0, 6.5, 5.5,
     6.5, 5.0, 6.0, 5.5, 7.0, 6.0, 7.0, 7.5, 8.0, 6.5,
     7.5, 9.0, 8.0, 7.0, 9.5, 8.0, 8.5, 7.0, 6.5, 7.5],
]

# ---- 10m windstoten
gust_oper = [15.6, 14.2, 13.3, 10.3, 9.2, 6.8, 5.7, 7.3, 5.4, 5.8,
             6.1, 6.3, 8.3, 9.2, 6.9, 8.1, 7.1, 6.4, 6.0, 5.8,
             3.0, 2.5, 2.9, 3.5, 3.5, 3.1, 6.1, 6.6, 6.8, 6.1,
             8.2, 8.7, 9.3, 8.0, 7.3, 7.7, 6.0, 4.4, 4.8, 7.0]
gust_control = [14.3, 13.0, 12.0, 10.2, 8.5, 5.8, 5.4, 7.0, 5.5, 5.8,
                6.0, 5.6, 9.0, 9.0, 6.1, 7.2, 6.5, 6.8, 7.8, 5.9,
                7.7, 6.1, 5.3, 4.5, 3.6, 5.9, 7.5, 7.4, 6.3, 4.2,
                10.4, 12.1, 12.1, 13.2, 12.0, 7.5, 5.2, 4.0, 4.7, 6.9,
                7.6, 6.0, 4.8, 4.7, 5.6, 7.9, 8.8, 10.1, 8.9, 7.6,
                7.5, 5.9, 3.9, 4.1, 4.2, 4.2, 4.7, 6.8, 6.4, 4.7]
gust_avg = [14.5, 13.2, 12.0, 10.0, 8.2, 6.2, 5.7, 6.8, 5.9, 6.0,
            6.3, 6.8, 8.3, 8.4, 7.2, 7.2, 7.6, 8.1, 7.3, 6.9,
            6.5, 6.0, 5.6, 5.1, 5.5, 6.3, 6.8, 6.9, 6.6, 7.5,
            7.8, 7.0, 6.9, 7.6, 7.5, 6.8, 6.6, 7.0, 7.0, 6.8,
            6.6, 6.8, 6.8, 6.8, 7.3, 8.1, 8.3, 8.0, 8.3, 9.2,
            9.6, 8.2, 8.1, 9.6, 10.2, 9.4, 9.1, 9.6, 9.9, 9.5]
gust_threshold = 20.8
gust_members = [
    [15.2, 13.8, 12.8, 10.8, 9.0, 7.0, 6.5, 10.2, 7.5, 7.0,
     8.0, 9.0, 11.5, 12.0, 10.0, 12.5, 10.5, 12.0, 9.5, 10.0,
     10.5, 9.0, 8.5, 11.0, 16.0, 12.0, 10.0, 11.0, 12.5, 11.5,
     14.5, 15.4, 12.0, 14.2, 11.0, 12.0, 11.5, 13.0, 15.5, 11.0,
     12.0, 13.0, 14.5, 19.0, 14.0, 15.0, 16.0, 17.5, 18.5, 16.0,
     18.0, 17.0, 22.3, 22.9, 21.8, 18.0, 18.7, 17.5, 16.0, 19.5],
    [14.8, 13.5, 12.4, 10.3, 8.6, 6.0, 6.0, 8.5, 6.5, 6.5,
     7.0, 8.0, 10.0, 10.5, 8.5, 9.5, 9.0, 9.5, 8.5, 8.0,
     8.0, 7.0, 6.5, 8.5, 10.0, 9.0, 8.0, 9.0, 9.5, 10.0,
     11.0, 10.5, 9.5, 11.0, 9.5, 10.0, 9.0, 10.5, 11.0, 9.5,
     10.0, 11.0, 12.0, 13.5, 12.0, 13.0, 14.0, 14.5, 13.0, 12.5,
     15.0, 14.0, 16.5, 17.0, 15.5, 14.0, 15.0, 14.5, 13.5, 15.0],
    [14.5, 13.2, 12.1, 10.0, 8.2, 5.2, 5.0, 7.0, 6.0, 5.5,
     6.0, 6.5, 8.5, 9.0, 7.5, 8.0, 7.5, 8.0, 7.0, 6.5,
     6.0, 5.5, 5.0, 6.0, 6.5, 7.0, 7.0, 7.5, 7.0, 8.0,
     8.0, 7.5, 7.0, 8.0, 7.5, 7.0, 7.5, 8.0, 7.5, 7.0,
     7.5, 8.0, 8.5, 9.0, 8.5, 9.5, 10.0, 9.5, 10.0, 11.0,
     11.5, 10.5, 12.0, 12.5, 11.0, 10.0, 11.5, 12.0, 11.0, 12.0],
    [14.2, 12.9, 11.8, 9.6, 7.8, 4.5, 4.0, 5.5, 5.0, 4.5,
     5.0, 5.5, 7.0, 7.5, 6.0, 6.5, 6.0, 6.5, 6.0, 5.0,
     4.5, 4.0, 3.5, 4.0, 5.0, 5.5, 6.0, 5.0, 5.5, 6.0,
     6.5, 6.0, 5.5, 6.0, 5.0, 5.5, 6.0, 6.5, 5.5, 5.0,
     5.5, 6.0, 6.5, 7.0, 6.5, 7.0, 7.5, 7.0, 7.5, 8.5,
     8.0, 7.5, 8.5, 9.0, 8.0, 7.5, 8.5, 9.0, 8.0, 8.5],
    [14.0, 12.6, 11.5, 9.2, 7.2, 3.5, 3.3, 4.5, 3.0, 3.5,
     2.2, 4.0, 5.0, 5.5, 4.0, 2.8, 4.5, 5.0, 4.0, 3.5,
     3.0, 2.5, 2.5, 1.5, 3.0, 3.5, 4.0, 3.0, 2.5, 3.5,
     3.0, 2.5, 3.0, 3.5, 3.0, 2.5, 3.0, 2.5, 1.8, 3.0,
     3.5, 3.0, 2.5, 3.5, 3.0, 2.5, 3.0, 2.0, 3.0, 3.5,
     1.8, 2.5, 3.5, 4.0, 3.5, 2.8, 3.5, 3.0, 2.5, 2.2],
    [14.9, 13.6, 12.6, 10.5, 8.8, 6.5, 6.2, 9.0, 7.0, 5.0,
     6.5, 7.5, 9.5, 11.0, 9.0, 8.5, 9.5, 11.0, 10.0, 7.5,
     6.5, 5.0, 4.0, 5.5, 8.0, 10.0, 8.5, 6.5, 8.0, 10.5,
     12.5, 9.0, 7.0, 9.5, 12.0, 9.0, 7.5, 9.0, 12.0, 8.0,
     6.5, 9.0, 11.0, 13.0, 10.5, 9.0, 12.5, 15.0, 11.0, 10.0,
     13.0, 16.0, 14.0, 12.0, 15.5, 13.0, 12.0, 15.0, 17.0, 14.0],
    [14.6, 13.3, 12.2, 10.1, 8.3, 5.5, 5.5, 6.5, 5.5, 6.0,
     6.5, 7.0, 7.5, 8.0, 7.0, 7.5, 8.5, 7.5, 6.5, 6.0,
     5.0, 4.5, 4.5, 5.0, 5.5, 6.5, 7.5, 8.5, 7.5, 6.5,
     7.0, 8.5, 9.0, 7.5, 6.5, 7.5, 8.5, 7.0, 6.5, 7.5,
     8.5, 7.5, 7.0, 8.0, 9.5, 10.5, 9.0, 8.0, 9.5, 10.0,
     9.0, 11.0, 12.5, 10.0, 9.5, 11.5, 10.5, 9.5, 11.0, 10.5],
    [14.4, 13.0, 11.9, 9.8, 8.0, 5.0, 4.5, 6.0, 4.5, 5.0,
     5.5, 6.0, 6.5, 6.5, 5.5, 5.5, 5.0, 5.5, 5.0, 4.5,
     3.5, 3.0, 3.0, 3.5, 4.0, 4.5, 5.0, 4.0, 4.5, 5.0,
     5.0, 4.5, 4.0, 4.5, 4.0, 4.5, 5.0, 4.0, 3.5, 4.0,
     4.5, 4.0, 4.5, 5.0, 4.5, 5.0, 5.5, 4.5, 5.0, 6.0,
     5.5, 5.0, 6.5, 6.0, 5.5, 5.0, 6.0, 6.5, 5.5, 6.0],
    [15.0, 13.7, 12.7, 10.6, 8.9, 6.8, 6.4, 9.5, 6.8, 7.5,
     9.0, 10.0, 12.0, 11.5, 9.5, 11.0, 12.0, 10.5, 11.0, 9.0,
     9.0, 8.0, 7.0, 7.5, 9.0, 8.5, 9.5, 10.5, 11.5, 9.0,
     9.5, 12.0, 13.0, 10.5, 9.0, 11.0, 13.5, 11.5, 10.0, 12.0,
     13.5, 11.0, 10.0, 12.0, 14.5, 12.5, 11.5, 14.0, 16.0, 14.0,
     12.5, 14.5, 17.5, 15.0, 13.5, 16.5, 14.0, 13.0, 16.5, 17.0],
    [14.7, 13.4, 12.3, 10.2, 8.4, 5.8, 5.8, 7.5, 6.2, 6.2,
     6.8, 7.2, 8.0, 8.5, 7.8, 8.8, 8.0, 9.0, 8.0, 7.0,
     7.0, 6.5, 6.0, 6.5, 7.0, 7.5, 8.0, 7.0, 6.5, 7.5,
     9.0, 8.0, 8.5, 9.0, 8.0, 8.5, 7.5, 8.0, 8.5, 8.0,
     7.0, 7.5, 8.0, 8.5, 8.0, 9.0, 8.5, 10.0, 11.0, 9.5,
     10.5, 9.0, 10.0, 11.5, 10.5, 9.0, 10.0, 11.0, 10.5, 9.0],
]

# ---- Bedekkingsgraad
cloud_oper = [99.5, 100, 100, 99, 98.5, 4, 96, 74, 100, 67,
              84, 100, 100, 100, 100, 97.5, 100, 90, 100, 100,
              100, 100, 100, 100, 100, 100, 100, 99, 99, 100,
              100, 100, 87, 4.4, 0.8, 2.2, 100, 96, 99, 100]
cloud_control = [100, 100, 100, 100, 100, 5, 100, 32, 46, 29,
                 64, 100, 100, 100, 100, 99, 100, 100, 97, 100,
                 100, 100, 100, 100, 100, 99, 98, 8, 99, 100,
                 100, 78, 100, 100, 98, 94, 100, 92, 84, 100,
                 100, 100, 100, 100, 100, 100, 100, 80, 59, 79,
                 100, 100, 56, 77, 97, 99.5, 100, 100, 100, 91]
cloud_q25 = [99, 100, 100, 96, 95, 11, 16, 27, 33, 30,
             44, 82, 98, 98, 85, 97, 97, 96, 98, 100,
             100, 100, 100, 99, 99, 89, 66, 78, 85, 66,
             33, 53, 67, 71, 43, 41, 55, 64, 82, 70,
             71, 83, 68, 87, 91.5, 88, 88, 89, 89.5, 76,
             92, 83.5, 84, 65, 71, 80, 70.5, 66.5, 83.5, 69]
cloud_q75 = [100, 100, 100, 100, 100, 60, 79, 73, 61, 74,
             84, 100, 100, 100, 100, 100, 100, 100, 100, 100,
             100, 100, 100, 100, 100, 100, 100, 100, 100, 100,
             100, 100, 100, 100, 100, 100, 100, 100, 100, 100,
             100, 100, 100, 100, 100, 100, 100, 100, 100, 100,
             100, 100, 100, 100, 100, 100, 100, 100, 100, 100]
cloud_median = [100, 100, 100, 99, 98, 25.5, 53.5, 51.5, 44, 46,
                70, 98, 99, 99, 99, 99, 99, 99, 99.5, 100,
                100, 100, 100, 100, 99.5, 99, 98, 98, 99, 98,
                86.5, 97, 99, 98.5, 96.5, 98, 99.5, 99, 99, 99,
                97, 99, 98, 97, 99, 99, 99, 99, 99, 99,
                99, 99, 99, 98, 98, 96, 99, 99, 99, 99]

# ============================================== Style ==============================================
sns.set_theme(style='white')
plt.rcParams['font.family'] = ['Liberation Sans', 'DejaVu Sans']

RED = '#d42b2b'
BLUE = '#3232d2'
GREEN = '#55b245'
AVG = '#7a0000'
W, H = 635, 1800

fig = plt.figure(figsize=(W / 100, H / 100), dpi=100)


def fx(px):
    return px / W


def fy(py):
    return 1 - py / H


def style_axes(ax, ylim, ystep, xlim):
    ax.set_xlim(*xlim)
    ax.set_ylim(*ylim)
    ax.set_xticks(range(len(day_labels)))
    ax.set_xticklabels(day_labels)
    ax.xaxis.set_minor_locator(MultipleLocator(0.25))
    ax.yaxis.set_major_locator(MultipleLocator(ystep))
    ax.grid(which='minor', axis='x', color='#c4c4c4', ls=(0, (2, 2)), lw=0.7)
    ax.grid(which='major', axis='x', color='#3c3c3c', ls='-', lw=0.8)
    ax.grid(which='major', axis='y', color='#cdbfcd', ls=(0, (2, 2)), lw=0.7)
    ax.set_axisbelow(True)
    ax.tick_params(which='both', direction='out', length=3, width=0.7, color='black',
                   bottom=True, left=True, pad=2)
    ax.tick_params(axis='x', labelsize=7.8)
    ax.tick_params(axis='y', labelsize=8.2)
    for s in ax.spines.values():
        s.set_color('black')
        s.set_linewidth(0.9)
    ax.set_xlabel('')
    ax.set_ylabel('')


def header(top, title, square=False):
    fig.text(fx(632), fy(top + 4.5), 'Infoplaza.nl - regio noordoost', ha='right', va='center',
             fontsize=6.6, color='#9a9a9a')
    fig.text(fx(632), fy(top + 14), 'Gemaakt: vr 24 dec 10:00', ha='right', va='center',
             fontsize=6.6, color='#9a9a9a')
    fig.text(fx(416), fy(top + 13.5), title, ha='center', va='center', fontsize=9.8,
             fontweight='bold', color='#111111')
    yy = fy(top + 13.5)
    if not square:
        items = [(28.5, 48, RED, '-', 2.6, 'Oper'),
                 (96, 115, BLUE, '-', 2.6, 'Control'),
                 (174, 193, '#8fcf7f', '-', 0.8, 'Members'),
                 (261, 281, AVG, (0, (1, 0.8)), 2.2, 'Average')]
        for x0, xt, c, ls, lw, lab in items:
            fig.add_artist(Line2D([fx(x0), fx(x0 + 16)], [yy, yy], color=c, ls=ls, lw=lw))
            fig.text(fx(xt), yy, lab, ha='left', va='center', fontsize=7.6, color='#111111')
    else:
        items = [(32, 39, '#d42b2b', 'oper'), (89.5, 97, '#3232d2', 'control'),
                 (158.5, 167, '#ffffa8', '50%'), (216, 224, '#111111', 'median')]
        for xs, xt, c, lab in items:
            fig.add_artist(Line2D([fx(xs)], [yy], marker='s', ms=4.6, mfc=c, mec='#333333',
                                  mew=0.6, ls='none'))
            fig.text(fx(xt), yy, lab, ha='left', va='center', fontsize=7.6, color='#111111')


def draw_runs(ax, oper, control, avg, members):
    rows = []
    for m, vals in enumerate(members):
        for t, v in zip(t_runs, vals):
            rows.append({'t': t, 'v': v, 'm': m})
    df = pd.DataFrame(rows)
    sns.lineplot(data=df, x='t', y='v', units='m', estimator=None, color=GREEN,
                 lw=0.85, alpha=0.6, ax=ax, legend=False, zorder=2)
    sns.lineplot(x=t_runs[:len(avg)], y=avg, ax=ax, color=AVG, lw=2.3, zorder=3)
    ax.lines[-1].set_linestyle((0, (1, 1)))
    sns.lineplot(x=t_runs[:len(control)], y=control, ax=ax, color=BLUE, lw=2.4, zorder=4)
    sns.lineplot(x=t_runs[:len(oper)], y=oper, ax=ax, color=RED, lw=2.4, zorder=5)


panels = [
    ('Temperatuur 2m', temp_oper, temp_control, temp_avg, temp_members, (-25, 15), 5),
    ('Dauwpunt 2m', dew_oper, dew_control, dew_avg, dew_members, (-25, 15), 5),
    ('Neerslag', rain_oper, rain_control, rain_avg, rain_members, (0, 10), 2),
    ('10m wind', wind_oper, wind_control, wind_avg, wind_members, (0, 16), 2),
    ('10m windstoten', gust_oper, gust_control, gust_avg, gust_members, (0, 24), 2),
]

for k, (title, oper, control, avg, members, ylim, ystep) in enumerate(panels):
    top = 300 * k
    ax = fig.add_axes([fx(28.3), fy(top + 280.7), fx(634.5) - fx(28.3), 260 / H])
    draw_runs(ax, oper, control, avg, members)
    if k == 0:
        ax.axhline(0, color='black', lw=1.5, zorder=6)
    if k == 4:
        ax.axhline(gust_threshold, color='#1e5454', lw=1.5, ls=(0, (1, 1)), zorder=6)
    style_axes(ax, ylim, ystep, (-0.76, 14.01))
    header(top, title)

# ---- Bedekkingsgraad panel
top = 1500
ax = fig.add_axes([fx(28.3), fy(top + 280), fx(634.5) - fx(28.3), 259.3 / H])
bottoms = np.array(cloud_q25)
heights = np.array(cloud_q75) - bottoms
ax.bar(t_cloud, heights, bottom=bottoms, width=0.25, color='#ffffac',
       edgecolor='#c9c6b4', linewidth=0.6, zorder=2)
has_bar = heights > 0.01
med_t = np.array(t_cloud)[has_bar]
med_v = np.array(cloud_median)[has_bar]
ax.hlines(med_v, med_t - 0.08, med_t + 0.08, color='#222222', lw=0.9, zorder=3)
sns.lineplot(x=t_cloud, y=cloud_control, ax=ax, color=BLUE, lw=2.0, zorder=4)
sns.lineplot(x=t_cloud[:len(cloud_oper)], y=cloud_oper, ax=ax, color=RED, lw=2.0, zorder=5)
style_axes(ax, (0, 100), 10, (-0.634, 14.15))
header(top, 'Bedekkingsgraad', square=True)

fig.savefig('out.png', dpi=100)
